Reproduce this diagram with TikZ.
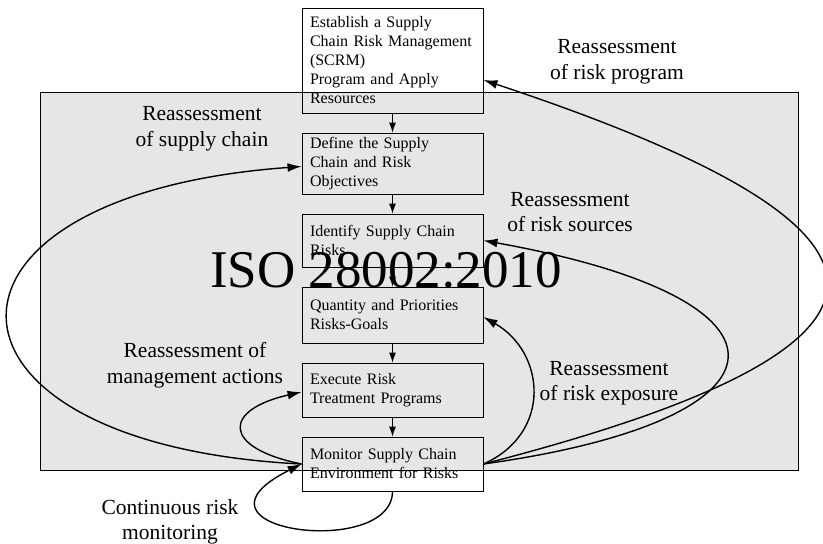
\documentclass[tikz,border=0pt]{standalone}
\usepackage{fontspec}
\setmainfont{Liberation Serif}
\usetikzlibrary{arrows.meta,calc}
\definecolor{panel}{HTML}{E6E6E6}
\begin{document}
\begin{tikzpicture}[x=1pt,y=-1pt,
  stepbox/.style={draw,line width=0.9pt,minimum width=181pt,text width=165pt,
    align=left,inner sep=0pt,font=\fontsize{16}{19}\selectfont},
  flow/.style={line width=0.9pt,-{Latex[length=10pt,width=7pt]}},
  loop/.style={line width=1.4pt,-{Latex[length=14pt,width=9pt]}},
  lbl/.style={align=center,inner sep=0pt,font=\fontsize{21.5}{25.5}\selectfont}]
\useasboundingbox (0,0) rectangle (823,544);
% shaded frame of the standard
\draw[fill=panel,line width=0.8pt] (40,92) rectangle (798,470);
% process steps
\node[stepbox,minimum height=105pt] (b1) at (392.5,60.5) {Establish a Supply\\Chain Risk Management\\(SCRM)\\Program and Apply\\Resources};
\node[stepbox,minimum height=61pt] (b2) at (392.5,163.5) {Define the Supply\\Chain and Risk\\Objectives};
\node[stepbox,minimum height=53pt] (b3) at (392.5,240.5) {Identify Supply Chain\\Risks};
\node[stepbox,minimum height=56pt] (b4) at (392.5,315) {Quantity and Priorities\\Risks-Goals};
\node[stepbox,minimum height=54pt] (b5) at (392.5,390) {Execute Risk\\Treatment Programs};
\node[stepbox,minimum height=54pt] (b6) at (392.5,464) {Monitor Supply Chain\\Environment for Risks};
% forward flow
\draw[flow] (b1) -- (b2);
\draw[flow] (b2) -- (b3);
\draw[flow] (b3) -- (b4);
\draw[flow] (b4) -- (b5);
\draw[flow] (b5) -- (b6);
% feedback loops
\draw[loop] (b6.east) .. controls (945,345) and (935,230) .. ($(b1.east)+(0,19.5)$);
\draw[loop] (b6.east) .. controls (800,420) and (815,300) .. (b3.east);
\draw[loop] (b6.east) .. controls (553,433) and (545,352) .. ($(b4.east)+(0,2)$);
\draw[loop] (b6.west) .. controls (-85,445) and (-95,195) .. ($(b2.west)+(0,3)$);
\draw[loop] (b6.west) .. controls (222,448) and (222,410) .. ($(b5.west)+(0,2)$);
\draw[loop] (b6.south) .. controls (392,560) and (170,530) .. (b6.west);
% title
\node[inner sep=0pt,font=\fontsize{53}{60}\selectfont] (iso) at (386,270) {ISO 28002:2010};
% loop labels
\node[lbl] (l1) at (617,62) {Reassessment\\of risk program};
\node[lbl] (l2) at (202,129) {Reassessment\\of supply chain};
\node[lbl] (l3) at (570,212) {Reassessment\\of risk sources};
\node[lbl] (l4) at (609,383) {Reassessment\\of risk exposure};
\node[lbl] (l5) at (195,365) {Reassessment of\\management actions};
\node[lbl] (l6) at (170,522) {Continuous risk\\monitoring};
\end{tikzpicture}
\end{document}
